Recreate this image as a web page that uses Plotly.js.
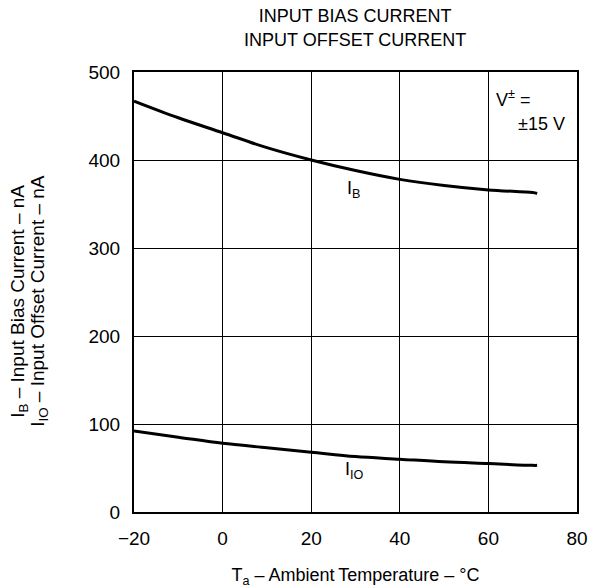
<!DOCTYPE html>
<html>
<head>
<meta charset="utf-8">
<script src="https://cdn.plot.ly/plotly-3.0.1.min.js"></script>
<style>html,body{margin:0;padding:0;background:#fff;}#chart{width:592px;height:588px;}</style>
</head>
<body>
<div id="chart"></div>
<script>
const temperature = [-20, -10, 0, 10, 20, 30, 40, 50, 60, 70, 71];
const biasCurrent = [467, 448, 431, 414, 400, 388, 378, 371, 366, 363, 362];
const offsetCurrent = [92, 85, 78, 73, 68, 63, 60, 57, 55, 53, 53];
const xTicks = [-20, 0, 20, 40, 60, 80];
const xTickText = ['\u221220', '0', '20', '40', '60', '80'];
const yTicks = [0, 100, 200, 300, 400, 500];

const font = 'Liberation Sans, Arial, sans-serif';
const traces = [
  {x: temperature, y: biasCurrent, mode: 'lines', line: {color: '#000', width: 3, shape: 'spline'}, hoverinfo: 'skip'},
  {x: temperature, y: offsetCurrent, mode: 'lines', line: {color: '#000', width: 3, shape: 'spline'}, hoverinfo: 'skip'}
];
const layout = {
  width: 592, height: 588,
  margin: {l: 134, r: 15, t: 72, b: 76},
  paper_bgcolor: '#fff', plot_bgcolor: '#fff',
  showlegend: false,
  font: {family: font, color: '#000', size: 18},
  title: {text: 'INPUT BIAS CURRENT<br>INPUT OFFSET CURRENT', x: 0.6, xanchor: 'center', y: 0.962, yanchor: 'top', font: {size: 18, family: font}},
  xaxis: {
    range: [-20, 80], tickvals: xTicks, ticktext: xTickText, showgrid: true, gridcolor: '#000', gridwidth: 1,
    zeroline: false, showline: true, linecolor: '#000', linewidth: 2, mirror: true, ticks: '', ticklabelstandoff: 8,
    tickfont: {size: 19}, fixedrange: true,
    title: {text: 'T<sub>a</sub> \u2013 Ambient\u2009Temperature \u2013 \u00b0C', font: {size: 18}, standoff: 24}
  },
  yaxis: {
    range: [0, 500], tickvals: yTicks, showgrid: true, gridcolor: '#000', gridwidth: 1,
    zeroline: false, showline: true, linecolor: '#000', linewidth: 2, mirror: true, ticks: '', ticklabelstandoff: 8,
    tickfont: {size: 19}, fixedrange: true
  },
  annotations: [
    {xref: 'paper', yref: 'paper', x: (19 - 134) / 443, y: 0.48, xanchor: 'center', yanchor: 'middle', textangle: -90, showarrow: false,
     text: 'I<sub>B</sub> \u2013 Input Bias Current \u2013 nA', font: {size: 19}},
    {xref: 'paper', yref: 'paper', x: (39 - 134) / 443, y: 0.48, xanchor: 'center', yanchor: 'middle', textangle: -90, showarrow: false,
     text: 'I<sub>IO</sub> \u2013 Input Offset Current \u2013 nA', font: {size: 19}},
    {x: 29.5, y: 366, xref: 'x', yref: 'y', showarrow: false, text: 'I<sub>B</sub>', font: {size: 18}},
    {x: 29.7, y: 47, xref: 'x', yref: 'y', showarrow: false, text: 'I<sub>IO</sub>', font: {size: 18}},
    {x: 61.3, y: 470, xref: 'x', yref: 'y', xanchor: 'left', showarrow: false, text: 'V<sup>\u00b1</sup> =', font: {size: 18}},
    {x: 71.9, y: 441, xref: 'x', yref: 'y', xanchor: 'center', showarrow: false, text: '\u00b115 V', font: {size: 18}}
  ]
};
Plotly.newPlot('chart', traces, layout, {displayModeBar: false, staticPlot: true});
</script>
</body>
</html>
